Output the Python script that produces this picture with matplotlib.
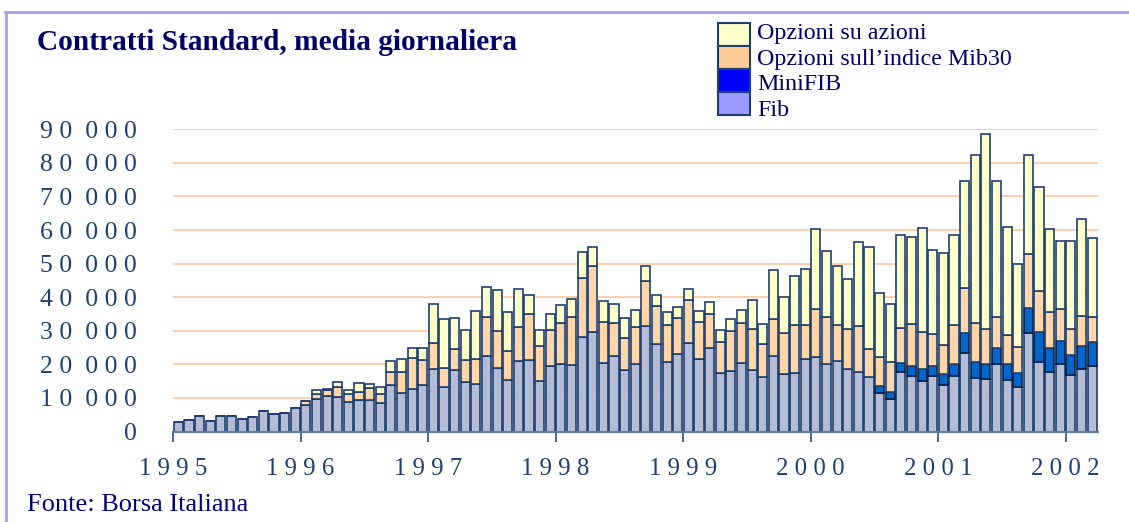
import matplotlib
matplotlib.use("Agg")
import matplotlib.pyplot as plt
import numpy as np
from matplotlib.patches import Rectangle
from matplotlib.lines import Line2D
from matplotlib.ticker import FuncFormatter, FixedLocator

plt.rcParams['font.family'] = ['Liberation Serif', 'DejaVu Serif']

# monthly averages, Jan 1995 - Mar 2002 (thousands of contracts)
fib = [2.7, 3.3, 4.7, 3.1, 4.7, 4.6, 3.7, 4.2, 6.1, 5.3, 5.4, 6.9,
       7.8, 9.6, 10.7, 10.3, 8.8, 9.5, 9.3, 8.5, 13.8, 11.6, 12.8, 13.9,
       18.6, 13.3, 18.3, 14.7, 14.0, 22.4, 18.9, 15.3, 21.0, 21.3, 15.0, 19.5,
       20.1, 19.8, 28.0, 29.5, 20.4, 22.5, 18.3, 20.0, 31.5, 26.0, 20.6, 23.1,
       26.4, 21.7, 24.9, 17.4, 18.1, 20.5, 18.4, 16.1, 22.6, 17.0, 17.3, 21.5,
       22.1, 20.0, 20.9, 18.5, 17.6, 16.2, 11.4, 9.6, 17.6, 16.4, 15.1, 16.4,
       13.8, 16.5, 23.4, 15.9, 15.5, 20.0, 15.3, 13.4, 29.3, 20.6, 17.6, 20.0,
       16.7, 18.7, 19.4]
minifib = [0] * 66 + [2.2, 2.2, 2.9, 3.0, 3.5, 3.0,
                      3.3, 3.7, 5.8, 4.9, 4.7, 4.8, 4.7, 4.0, 7.4, 9.1, 7.2, 6.9,
                      6.0, 6.7, 7.2]
opz_indice = [0] * 12 + [
    1.3, 1.6, 1.6, 2.9, 2.3, 2.4, 3.8, 2.7, 4.0, 6.0, 9.0, 7.4,
    7.8, 5.7, 6.4, 6.7, 7.7, 11.7, 11.1, 8.7, 10.1, 13.8, 10.5, 10.8,
    12.3, 14.2, 17.8, 19.9, 12.2, 9.9, 9.5, 11.2, 13.4, 11.3, 11.1, 10.7,
    12.9, 10.8, 10.2, 9.3, 11.8, 11.7, 12.1, 10.0, 11.0, 12.2, 14.3, 10.1,
    14.5, 14.0, 10.8, 11.9, 13.8, 8.4, 8.6, 8.9, 10.3, 12.5, 11.1, 9.5,
    8.7, 11.5, 13.4, 11.4, 10.2, 9.3, 8.6, 7.9, 16.2, 12.2, 10.8, 9.7,
    7.8, 8.9, 7.5]
opz_azioni = [0] * 12 + [
    0.0, 1.1, 0.5, 1.6, 1.4, 2.5, 1.1, 2.1, 3.3, 3.9, 3.1, 3.6,
    11.6, 14.6, 9.1, 8.7, 14.3, 8.9, 12.0, 11.7, 11.2, 5.7, 4.8, 4.7,
    5.3, 5.4, 7.7, 5.5, 6.4, 5.6, 5.9, 5.0, 4.4, 3.4, 4.0, 3.3,
    3.0, 3.5, 3.5, 3.4, 3.5, 4.0, 8.7, 5.9, 14.4, 11.0, 14.6, 16.8,
    23.6, 19.7, 17.6, 15.0, 24.9, 30.2, 18.9, 17.3, 27.8, 26.1, 31.0, 25.3,
    27.5, 26.7, 32.1, 50.2, 58.2, 40.4, 32.2, 24.7, 29.5, 30.8, 24.7, 20.2,
    26.3, 29.1, 23.6]

years = [1995, 1996, 1997, 1998, 1999, 2000, 2001, 2002]
labels = ["Opzioni su azioni", "Opzioni sull\u2019indice Mib30", "MiniFIB", "Fib"]

bar_colors = ["#FFFFCC", "#FFD6AA", "#0066CC", "#B4BCD6"]
legend_colors = ["#FFFFCC", "#FFCC99", "#0000FF", "#9999FF"]
edge = "#1F3F6F"
navy = "#1F3F6F"

fig = plt.figure(figsize=(11.29, 5.22), dpi=100)
W, H = 1129, 522
ax = fig.add_axes([173 / W, 1 - 431.5 / H, 925 / W, 302.2 / H])

x = np.arange(len(fib))
series = [np.array(fib) * 1000, np.array(minifib) * 1000,
          np.array(opz_indice) * 1000, np.array(opz_azioni) * 1000]
colors = [bar_colors[3], bar_colors[2], bar_colors[1], bar_colors[0]]
bottom = np.zeros(len(fib))
for vals, c in zip(series, colors):
    ec = "#0A1F40" if c == bar_colors[2] else edge
    ax.bar(x, vals, width=0.86, bottom=bottom, color=c, edgecolor=ec,
           linewidth=1.2, zorder=3)
    bottom = bottom + vals

ax.set_xlim(-0.5, len(fib) - 0.45)
ax.set_ylim(0, 90000)
ax.set_yticks(np.arange(0, 90001, 10000))
ax.yaxis.set_major_formatter(FuncFormatter(
    lambda v, p: "0" if v == 0 else " ".join(str(int(v // 1000))) + "  0 0 0"))
ax.grid(axis="y", color="#FFC59A", linewidth=1.2, zorder=0)

ticks = [12 * i - 0.5 for i in range(len(years))]
ax.xaxis.set_major_locator(FixedLocator(ticks))
ax.set_xticklabels([" ".join(str(y)) for y in years])

for s in ["top", "right", "left"]:
    ax.spines[s].set_visible(False)
ax.spines["bottom"].set_color("#5E7AA0")
ax.spines["bottom"].set_linewidth(1.5)
ax.spines["bottom"].set_zorder(4)
ax.tick_params(axis="y", length=0, pad=26, labelsize=18.5, labelcolor=navy)
ax.tick_params(axis="x", length=7, width=1.3, color="#3A5A88", pad=12,
               labelsize=17.8, labelcolor=navy)

# title, source, frame
fig.text(37 / W, 1 - 43 / H, "Contratti Standard, media giornaliera",
         fontsize=21.2, fontweight="bold", color="#000066", va="center", ha="left")
fig.text(27 / W, 1 - 505 / H, "Fonte: Borsa Italiana", fontsize=19,
         color="#000080", va="center", ha="left")
fig.add_artist(Line2D([5 / W, 1], [1 - 12 / H, 1 - 12 / H], color="#A0A0F4",
                      linewidth=2, transform=fig.transFigure))
fig.add_artist(Line2D([6 / W, 6 / W], [0, 1 - 12 / H], color="#A0A0F4",
                      linewidth=2, transform=fig.transFigure))

# legend
text_y = [34, 59, 85, 111]
for i, (lab, c) in enumerate(zip(labels, legend_colors)):
    top = 23 + i * 23
    fig.add_artist(Rectangle((718 / W, 1 - (top + 23) / H), 32 / W, 23 / H,
                             facecolor=c, edgecolor=edge, linewidth=1.5,
                             transform=fig.transFigure))
    fig.text(757 / W, 1 - text_y[i] / H, lab, fontsize=17.3, color="#000066",
             va="center", ha="left")

fig.savefig("out.png", dpi=100)
